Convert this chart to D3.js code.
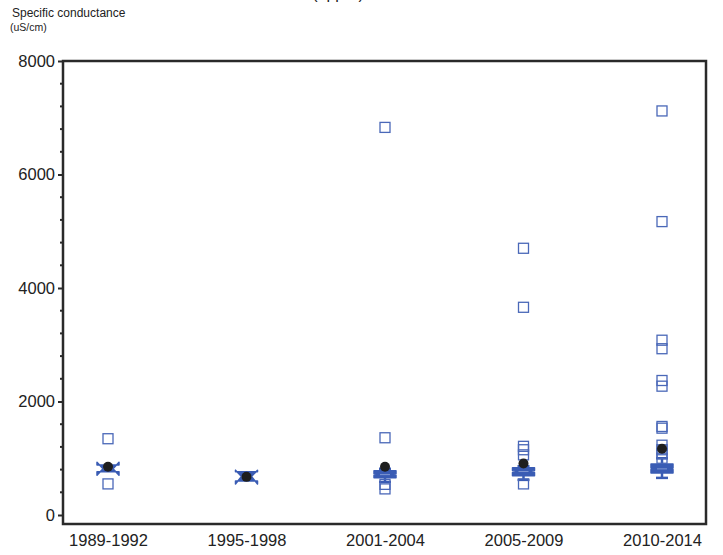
<!DOCTYPE html>
<html><head><meta charset="utf-8">
<script src="https://cdn.jsdelivr.net/npm/d3@7"></script>
<style>body{margin:0;background:#fff}svg{display:block}text{font-family:"Liberation Sans",Arial,sans-serif}</style>
</head><body>
<svg id="c" width="723" height="555"></svg>
<script>
const categories = ["1989-1992","1995-1998","2001-2004","2005-2009","2010-2014"];
const q1 =        [760, 600, 655, 690, 742];
const median =    [815, 680, 712, 766, 813];
const q3 =        [880, 760, 778, 831, 900];
const notchLow =  [700, 545, 700, 750, 800];
const notchHigh = [930, 790, 725, 782, 826];
const whiskerLow =[760, 600, 583, 619, 654];
const whiskerHigh=[880, 760, 815, 860, 1000];
const means =     [849, 672, 849, 907, 1167];
const outliers = [
  [1344, 548],
  [],
  [6830, 1361, 540, 460],
  [4700, 3660, 1210, 1150, 1060, 548],
  [7120, 5170, 3080, 2930, 2370, 2270, 1560, 1530, 1230, 1150, 1080, 1000]
];
const yTicks = [0, 2000, 4000, 6000, 8000];

const svg = d3.select("#c");
const L = 63, R = 706, T = 61, B = 524;
const x = d3.scalePoint().domain(categories).range([108, 662]);
const y = d3.scaleLinear().domain([0, 8000]).range([515, 61]);
const blue = "#3a5cb4";

// frame
svg.append("rect").attr("x", L).attr("y", T).attr("width", R - L).attr("height", B - T)
  .attr("fill", "none").attr("stroke", "#2a2a2a").attr("stroke-width", 2.5);

// y axis
const yAxis = d3.axisLeft(y).tickValues(yTicks).tickSize(5).tickPadding(3).tickFormat(d3.format("d"));
const gy = svg.append("g").attr("transform", `translate(${L},0)`).call(yAxis);
gy.select(".domain").remove();
gy.selectAll(".tick line").attr("stroke", "#2a2a2a").attr("stroke-width", 2);
gy.selectAll(".tick text").attr("font-size", 16.5).attr("fill", "#222");
const minor = d3.range(400, 8000, 400).filter(v => v % 2000 !== 0);
svg.append("g").selectAll("line").data(minor).join("line")
  .attr("x1", L - 3).attr("x2", L).attr("y1", d => y(d)).attr("y2", d => y(d))
  .attr("stroke", "#2a2a2a").attr("stroke-width", 2);

// x labels
const xAxis = d3.axisBottom(x).tickSize(0).tickPadding(10);
const gx = svg.append("g").attr("transform", `translate(0,${B})`).call(xAxis);
gx.select(".domain").remove();
gx.selectAll(".tick text").attr("font-size", 16.5).attr("fill", "#222");

// titles
svg.append("text").attr("x", 12).attr("y", 17).attr("font-size", 12).attr("fill", "#222").text("Specific conductance");
svg.append("text").attr("x", 10).attr("y", 31).attr("font-size", 10.5).attr("fill", "#222").text("(uS/cm)");
svg.append("text").attr("x", 338).attr("y", -1).attr("text-anchor", "middle").attr("font-size", 16).attr("fill", "#222").text("(upper)");

// boxes
const hw = 11, cap = 6, ind = 6;
categories.forEach((c, i) => {
  const cx = x(c);
  const g = svg.append("g");
  [[q1[i], whiskerLow[i]], [q3[i], whiskerHigh[i]]].forEach(([a, b]) => {
    if (a === b) return;
    g.append("line").attr("x1", cx).attr("x2", cx).attr("y1", y(a)).attr("y2", y(b)).attr("stroke", blue).attr("stroke-width", 2.5);
    g.append("line").attr("x1", cx - cap).attr("x2", cx + cap).attr("y1", y(b)).attr("y2", y(b)).attr("stroke", blue).attr("stroke-width", 2.5);
  });
  const pts = [
    [cx - hw, y(q3[i])], [cx + hw, y(q3[i])], [cx + hw, y(notchHigh[i])], [cx + hw - ind, y(median[i])],
    [cx + hw, y(notchLow[i])], [cx + hw, y(q1[i])], [cx - hw, y(q1[i])], [cx - hw, y(notchLow[i])],
    [cx - hw + ind, y(median[i])], [cx - hw, y(notchHigh[i])]
  ];
  g.append("polygon").attr("points", pts.map(p => p.join(",")).join(" "))
    .attr("fill", blue).attr("stroke", blue).attr("stroke-width", 1.5).attr("stroke-linejoin", "round");
  g.append("line").attr("x1", cx - hw + ind).attr("x2", cx + hw - ind).attr("y1", y(median[i])).attr("y2", y(median[i]))
    .attr("stroke", "#7e95d0").attr("stroke-width", 1);
  g.selectAll("rect.o").data(outliers[i]).join("rect").attr("class", "o")
    .attr("x", cx - 5).attr("y", d => y(d) - 5).attr("width", 10).attr("height", 10)
    .attr("fill", "none").attr("stroke", "#4a68b8").attr("stroke-width", 1.3);
  g.append("circle").attr("cx", cx).attr("cy", y(means[i])).attr("r", 5).attr("fill", "#1e1e1e");
});
</script>
</body></html>
